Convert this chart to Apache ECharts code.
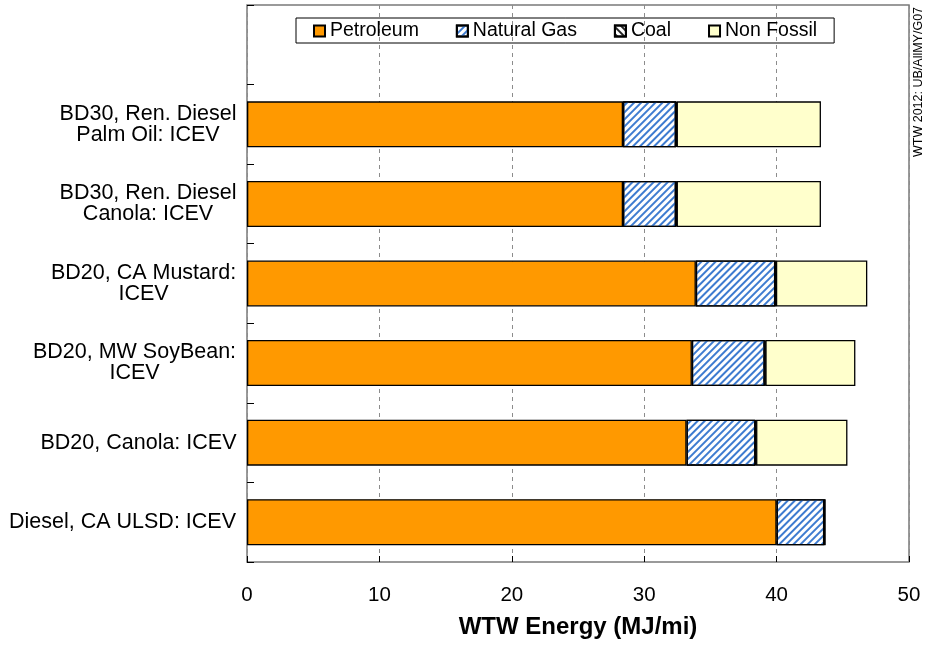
<!DOCTYPE html>
<html>
<head>
<meta charset="utf-8">
<script src="https://cdn.jsdelivr.net/npm/echarts@6/dist/echarts.min.js"></script>
<style>
html,body{margin:0;padding:0;background:#fff;}
#chart{width:927px;height:645px;}
</style>
</head>
<body>
<div id="chart"></div>
<script>
// Categories from bottom to top (the top band is empty, the legend sits there)
const categories = [
  'Diesel, CA ULSD: ICEV',
  'BD20, Canola: ICEV',
  'BD20, MW SoyBean:\nICEV',
  'BD20, CA Mustard:\nICEV',
  'BD30, Ren. Diesel\nCanola: ICEV',
  'BD30, Ren. Diesel\nPalm Oil: ICEV',
  ''
];
const petroleum  = [40.0, 33.2, 33.6, 33.9, 28.4, 28.4, '-'];
const naturalGas = [3.6, 5.2, 5.5, 6.0, 4.0, 4.0, '-'];
const coal       = [0.05, 0.05, 0.05, 0.05, 0.05, 0.05, '-'];
const nonFossil  = [0, 6.9, 6.8, 6.9, 10.9, 10.9, '-'];
const xTicks = [0, 10, 20, 30, 40, 50];
const seriesNames = ['Petroleum', 'Natural Gas', 'Coal', 'Non Fossil'];

const FONT = '"Liberation Sans", Arial, sans-serif';
const LABEL_SIZE = 21.5;

// per-label rich style so that lines are centred inside a right-aligned block
const cnv = document.createElement('canvas').getContext('2d');
cnv.font = LABEL_SIZE + 'px ' + FONT;
const rich = {};
categories.forEach(function (c, i) {
  const lines = c.split('\n');
  let w = 0;
  lines.forEach(function (l) { w = Math.max(w, cnv.measureText(l).width); });
  rich['l' + i] = {
    width: Math.ceil(w) + 1, align: 'center', fontSize: LABEL_SIZE,
    fontFamily: FONT, color: '#000', lineHeight: 21
  };
});

const chart = echarts.init(document.getElementById('chart'), null, {renderer: 'canvas'});
const border = {borderColor: '#000', borderWidth: 1.3};
chart.setOption({
  animation: false,
  backgroundColor: '#fff',
  textStyle: {fontFamily: FONT},
  legend: {
    data: seriesNames,
    left: 296, top: 18,
    borderColor: '#000', borderWidth: 1,
    padding: [3, 17, 2, 17],
    itemGap: 37,
    itemWidth: 11, itemHeight: 11,
    icon: 'rect',
    textStyle: {fontSize: 19.5, color: '#000', fontFamily: FONT}
  },
  grid: {
    left: 247, right: 18, top: 5, bottom: 83,
    show: true, borderColor: '#7a7a7a', borderWidth: 1.5,
    backgroundColor: '#fff'
  },
  xAxis: {
    type: 'value', min: 0, max: 50, interval: 10,
    axisLine: {show: false},
    axisTick: {show: true, inside: true, length: 6, lineStyle: {color: '#000'}},
    splitLine: {show: true, lineStyle: {color: '#8c8c8c', type: [4, 4], width: 1}},
    axisLabel: {
      fontSize: 20.5, color: '#000', margin: 23, fontFamily: FONT,
      formatter: function (v) { return xTicks.indexOf(v) >= 0 ? String(v) : ''; }
    },
    name: 'WTW Energy (MJ/mi)',
    nameLocation: 'middle', nameGap: 53,
    nameTextStyle: {fontSize: 24, fontWeight: 'bold', color: '#000', fontFamily: FONT}
  },
  yAxis: {
    type: 'category', data: categories,
    axisLine: {show: false},
    axisTick: {show: true, inside: true, length: 7, lineStyle: {color: '#000'}},
    splitLine: {show: false},
    axisLabel: {
      margin: 10, color: '#000', fontSize: LABEL_SIZE, fontFamily: FONT,
      formatter: function (v, i) {
        if (!v) return '';
        return v.split('\n').map(function (l) { return '{l' + i + '|' + l + '}'; }).join('\n');
      },
      rich: rich
    }
  },
  series: [
    {
      name: 'Petroleum', type: 'bar', stack: 'total', barWidth: 46,
      data: petroleum,
      itemStyle: Object.assign({color: '#FF9900'}, border)
    },
    {
      name: 'Natural Gas', type: 'bar', stack: 'total', barWidth: 46,
      data: naturalGas,
      itemStyle: Object.assign({
        color: '#ffffff',
        decal: {
          symbol: 'rect', symbolSize: 1, color: '#3d7bd0',
          dashArrayX: [1, 0], dashArrayY: [2, 3], rotation: -Math.PI / 4
        }
      }, border)
    },
    {
      name: 'Coal', type: 'bar', stack: 'total', barWidth: 46,
      data: coal,
      itemStyle: Object.assign({
        color: '#ffffff',
        decal: {
          symbol: 'rect', symbolSize: 1, color: '#222',
          dashArrayX: [1, 0], dashArrayY: [2, 3], rotation: Math.PI / 4
        }
      }, border)
    },
    {
      name: 'Non Fossil', type: 'bar', stack: 'total', barWidth: 46,
      data: nonFossil,
      itemStyle: Object.assign({color: '#FFFFCC'}, border)
    }
  ],
  graphic: [{
    type: 'text', x: 912, y: 157, rotation: Math.PI / 2,
    style: {
      text: 'WTW 2012: UB/AllMY/G07', fontSize: 12.5, fontFamily: FONT,
      fill: '#000', align: 'left', verticalAlign: 'top'
    }
  }]
});
</script>
</body>
</html>
